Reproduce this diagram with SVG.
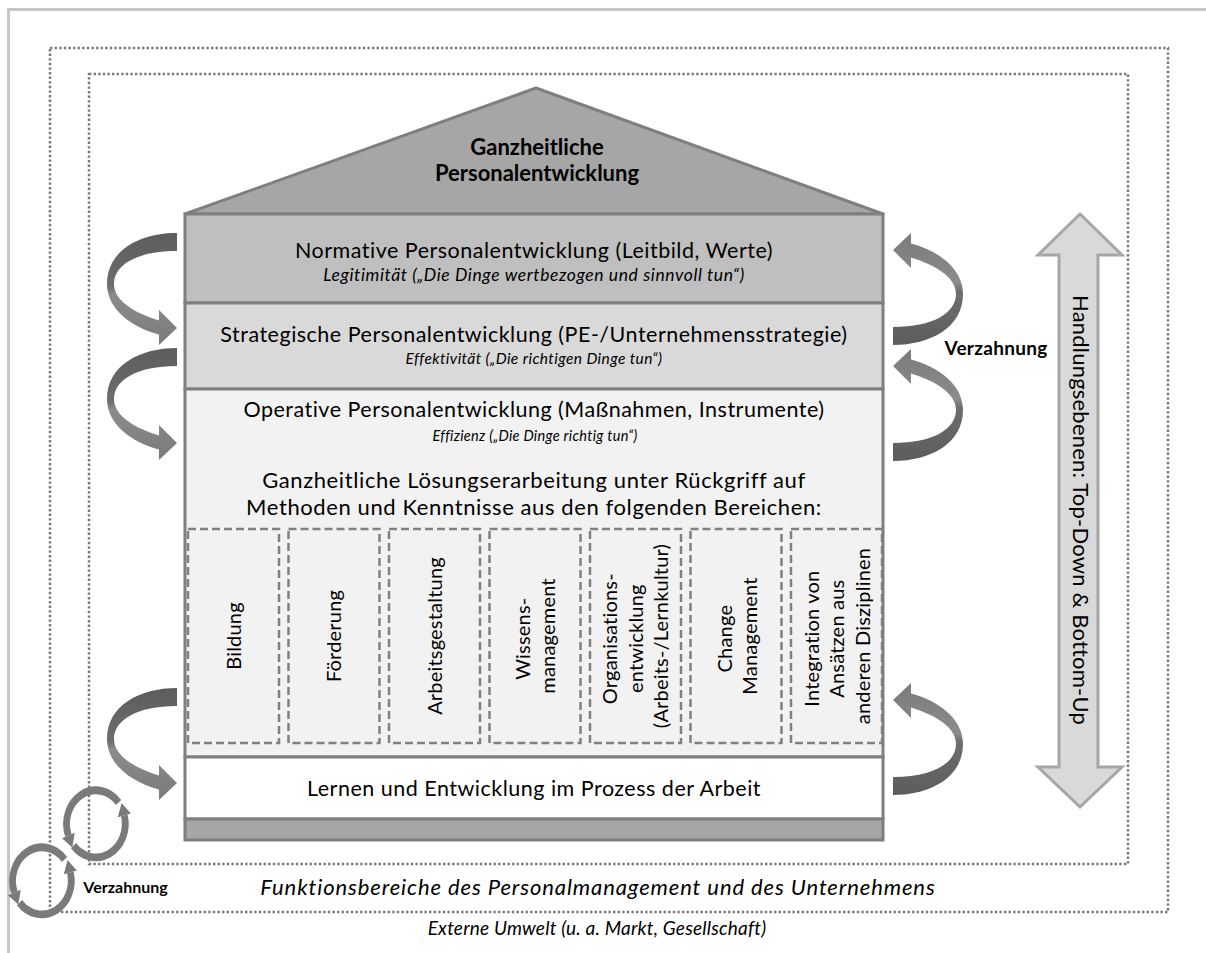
<svg xmlns="http://www.w3.org/2000/svg" width="1206" height="953" viewBox="0 0 1206 953">
  <style>
    .t { font-family: Lato, "Liberation Sans", sans-serif; fill: #000; text-anchor: middle; }
    .main { font-size: 21.5px; letter-spacing: 0.5px; }
    .wide { font-size: 22px; letter-spacing: 0.6px; }
    .sub { font-style: italic; }
    .col { font-size: 20px; letter-spacing: 0.2px; }
    .bold { font-weight: bold; }
    .band { stroke: #7f7f7f; stroke-width: 3; }
    .dots { fill: none; stroke: #7a7a7a; stroke-width: 2.5; stroke-dasharray: 2.4 2.2; }
    .cbox { fill: none; stroke: #808080; stroke-width: 2.5; stroke-dasharray: 8 4; }
    .ring { fill: none; stroke: #7a7a7a; stroke-width: 6.5; marker-end: url(#smallHead); }
  </style>
  <defs>
    <linearGradient id="gCurl" x1="0" y1="0" x2="0" y2="1">
      <stop offset="0" stop-color="#5c5c5c"/>
      <stop offset="0.48" stop-color="#6e6e6e"/>
      <stop offset="0.55" stop-color="#8c8c8c"/>
      <stop offset="1" stop-color="#7a7a7a"/>
    </linearGradient>
    <!-- curled ribbon arrow: flat end top-right at origin, head bottom-right pointing right -->
    <path id="curl" fill="url(#gCurl)" d="M0,0 C-38,0 -70,18 -70,51 C-70,76 -46,94 -18,101.5 L-18,112 L0,95 L-18,77 L-18,87.5 C-42,80 -63,68 -63,51 C-63,32 -40,18 0,18 Z"/>
    <marker id="smallHead" markerUnits="userSpaceOnUse" markerWidth="15" markerHeight="15" viewBox="-1 -7 13 14" refX="0" refY="0" orient="auto">
      <path d="M0,-6 L10,0 L0,6 Z" fill="#7a7a7a"/>
    </marker>
    <g id="ringPair">
      <path class="ring" d="M21.5,-18 A28,28 0 0 0 -26.3,9.6"/>
      <path class="ring" d="M-21.4,18 A28,28 0 0 0 27,-7.2"/>
    </g>
  </defs>

  <!-- page frame -->
  <path d="M8.5,953 V9.5 H1206" fill="none" stroke="#c6c6c6" stroke-width="3"/>

  <!-- environment boundaries -->
  <rect class="dots" x="50" y="48" width="1118" height="864"/>
  <rect class="dots" x="89" y="74" width="1039" height="790"/>

  <!-- house -->
  <g id="roof">
    <polygon points="185,214 536,88 883,214" fill="#a6a6a6" stroke="#7f7f7f" stroke-width="3" stroke-linejoin="round"/>
    <text class="t bold" x="537" y="155" font-size="22">Ganzheitliche</text>
    <text class="t bold" x="537" y="181" font-size="22">Personalentwicklung</text>
  </g>
  <g id="normative">
    <rect class="band" x="185" y="214" width="698" height="89" fill="#bfbfbf"/>
    <text class="t main" x="534" y="258">Normative Personalentwicklung (Leitbild, Werte)</text>
    <text class="t sub" x="534" y="281" font-size="17.5" letter-spacing="0.6">Legitimität („Die Dinge wertbezogen und sinnvoll tun“)</text>
  </g>
  <g id="strategic">
    <rect class="band" x="185" y="303" width="698" height="86" fill="#d9d9d9"/>
    <text class="t main" x="534" y="342">Strategische Personalentwicklung (PE-/Unternehmensstrategie)</text>
    <text class="t sub" x="534" y="364" font-size="15.5" letter-spacing="0.4">Effektivität („Die richtigen Dinge tun“)</text>
  </g>
  <g id="operative">
    <rect class="band" x="185" y="389" width="698" height="368" fill="#f2f2f2"/>
    <text class="t main" x="534" y="417">Operative Personalentwicklung (Maßnahmen, Instrumente)</text>
    <text class="t sub" x="535" y="441" font-size="14.5" letter-spacing="0.3">Effizienz („Die Dinge richtig tun“)</text>
    <text class="t wide" x="534" y="488">Ganzheitliche Lösungserarbeitung unter Rückgriff auf</text>
    <text class="t wide" x="534" y="515">Methoden und Kenntnisse aus den folgenden Bereichen:</text>
  </g>

  <g id="col-bildung">
    <rect class="cbox" x="188" y="529" width="91" height="214"/>
    <text class="t col" transform="translate(233.5,636) rotate(-90)" y="7">Bildung</text>
  </g>
  <g id="col-foerderung">
    <rect class="cbox" x="288.5" y="529" width="91" height="214"/>
    <text class="t col" transform="translate(334,636) rotate(-90)" y="7">Förderung</text>
  </g>
  <g id="col-arbeitsgestaltung">
    <rect class="cbox" x="389" y="529" width="91" height="214"/>
    <text class="t col" transform="translate(434.5,636) rotate(-90)" y="7">Arbeitsgestaltung</text>
  </g>
  <g id="col-wissensmanagement">
    <rect class="cbox" x="489.5" y="529" width="91" height="214"/>
    <text class="t col" transform="translate(535,636) rotate(-90)">
      <tspan x="0" y="-5.5">Wissens-</tspan>
      <tspan x="0" y="20">management</tspan>
    </text>
  </g>
  <g id="col-organisationsentwicklung">
    <rect class="cbox" x="590" y="529" width="91" height="214"/>
    <text class="t col" transform="translate(635.5,636) rotate(-90)">
      <tspan x="0" y="-18.5">Organisations-</tspan>
      <tspan x="0" y="7">entwicklung</tspan>
      <tspan x="0" y="32.5">(Arbeits-/Lernkultur)</tspan>
    </text>
  </g>
  <g id="col-change">
    <rect class="cbox" x="690.5" y="529" width="91" height="214"/>
    <text class="t col" transform="translate(737,636) rotate(-90)">
      <tspan x="0" y="-5.5">Change</tspan>
      <tspan x="0" y="20">Management</tspan>
    </text>
  </g>
  <g id="col-integration">
    <rect class="cbox" x="791" y="529" width="91" height="214"/>
    <text class="t col" transform="translate(837,636) rotate(-90)">
      <tspan x="0" y="-18.5">Integration von</tspan>
      <tspan x="0" y="7">Ansätzen aus</tspan>
      <tspan x="0" y="32.5">anderen Disziplinen</tspan>
    </text>
  </g>

  <g id="lernen">
    <rect class="band" x="185" y="757" width="698" height="62" fill="#ffffff"/>
    <text class="t main" x="534" y="796">Lernen und Entwicklung im Prozess der Arbeit</text>
  </g>
  <g id="base">
    <rect class="band" x="185" y="819" width="698" height="21" fill="#a6a6a6"/>
  </g>

  <!-- connectors -->
  <g id="connectors">
    <use href="#curl" transform="translate(177,233)"/>
    <use href="#curl" transform="translate(177,348)"/>
    <use href="#curl" transform="translate(177,688)"/>
    <use href="#curl" transform="translate(893,345) rotate(180)"/>
    <use href="#curl" transform="translate(893,461) rotate(180)"/>
    <use href="#curl" transform="translate(893,795) rotate(180)"/>
    <polygon points="1080,214 1122,255 1098,255 1098,767 1122,767 1080,807 1038,767 1059,767 1059,255 1038,255" fill="#d9d9d9" stroke="#a6a6a6" stroke-width="3" stroke-linejoin="miter"/>
    <use href="#ringPair" transform="translate(96,824) scale(1.05,1.2)"/>
    <use href="#ringPair" transform="translate(42,881) scale(1.05,1.2)"/>
  </g>

  <!-- labels -->
  <g id="labels">
    <text class="t bold" x="996" y="355" font-size="19" letter-spacing="0.3">Verzahnung</text>
    <text class="t bold" x="125.5" y="893" font-size="16">Verzahnung</text>
    <text class="t" transform="translate(1080,510) rotate(90)" y="7.5" font-size="22" letter-spacing="0.2">Handlungsebenen: Top-Down &amp; Bottom-Up</text>
    <text class="t" x="598" y="895" font-size="22" font-style="italic" letter-spacing="0.9">Funktionsbereiche des Personalmanagement und des Unternehmens</text>
    <text class="t" x="597" y="935" font-size="19" font-style="italic" letter-spacing="0.2">Externe Umwelt (u. a. Markt, Gesellschaft)</text>
  </g>
</svg>
